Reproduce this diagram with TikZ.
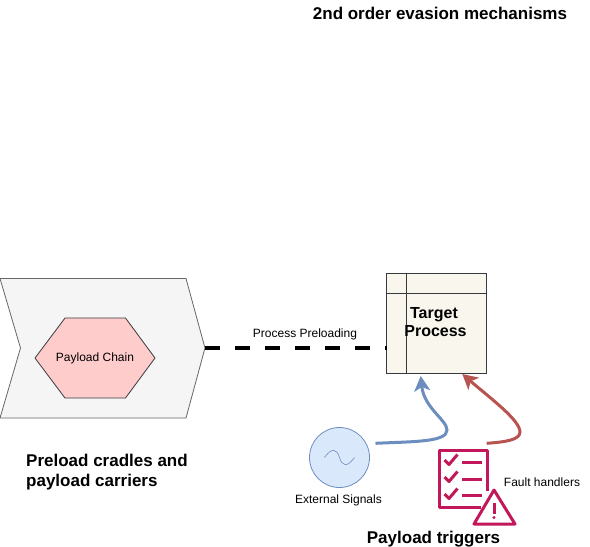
\documentclass[tikz,border=0pt]{standalone}
\usepackage{fontspec}
\setmainfont{Liberation Sans}
\usetikzlibrary{arrows.meta,shapes.geometric}
\definecolor{chevfill}{HTML}{F5F5F5}
\definecolor{chevline}{HTML}{666666}
\definecolor{hexfill}{HTML}{FFCCCC}
\definecolor{hexline}{HTML}{36393D}
\definecolor{boxfill}{HTML}{F9F7ED}
\definecolor{sigfill}{HTML}{DAE8FC}
\definecolor{sigline}{HTML}{6C8EBF}
\definecolor{redline}{HTML}{B85450}
\definecolor{pink}{HTML}{C2185B}
\tikzset{
  x=1pt,y=-1pt,
  heading/.style={font=\fontsize{17}{20}\selectfont\bfseries,align=left,inner sep=0pt},
  targetlabel/.style={font=\fontsize{16}{18}\selectfont\bfseries,align=center,inner sep=0pt},
  small/.style={font=\fontsize{12}{14}\selectfont,inner sep=0pt},
  tip/.style={-{Stealth[length=15pt,width=16pt,inset=4pt]}},
  icon/.style={draw=pink,line width=3pt,fill=none},
}
\begin{document}
\begin{tikzpicture}
\useasboundingbox (0,0) rectangle (590,547);
% chevron
\draw[chevline,fill=chevfill,line width=.8pt] (0,278.5) -- (186,278.5) -- (205,348) -- (186,418) -- (0,418) -- (20.5,348) -- cycle;
\coordinate (chevtip) at (205,348);
% hexagon
\draw[hexline,fill=hexfill,line width=.8pt] (35,358) -- (65,318) -- (125.5,318) -- (155,358) -- (125.5,398) -- (65,398) -- cycle;
\node[small] (chain) at (95,358.5) {Payload Chain};
% target
\draw[hexline,fill=boxfill,line width=1pt] (386.5,273.5) rectangle (486.5,373.5);
\draw[hexline,line width=1pt] (406.5,273.5) -- (406.5,373.5) (386.5,293.5) -- (486.5,293.5);
\coordinate (tgtleft) at (386.5,348);
\coordinate (tgtblue) at (420.7,376);
\coordinate (tgtred) at (462.3,374);
\node[targetlabel] (target) at (435.5,322.5) {Target\hspace*{3pt}\\Process};
% dashed connector
\draw[line width=4.5pt,dash pattern=on 15pt off 15pt] (chevtip) -- (tgtleft);
\node[small] (plabel) at (305,334.5) {Process Preloading};
% signal
\node[circle,draw=sigline,fill=sigfill,line width=.8pt,minimum size=60pt,inner sep=0pt] (sig) at (339.5,457.5) {};
\draw[sigline,line width=.6pt] (324.5,457.5) .. controls (332,447) and (337,449) .. (339.5,457.5) .. controls (342,466) and (347,468) .. (354.5,457.5);
\node[small] (siglabel) at (338.5,500.5) {External Signals};
% curves
\coordinate (bluestart) at (375.5,443.3);
\coordinate (redstart) at (486.7,443.3);
\draw[sigline,line width=3pt,tip] (bluestart) .. controls (415,441.5) and (447,442) .. (447,430) .. controls (447,420) and (424,408) .. (tgtblue);
\draw[redline,line width=3pt,tip] (redstart) .. controls (505,442) and (520,440) .. (520,432) .. controls (520,420) and (490,398) .. (tgtred);
% icon
\draw[icon,line join=round] (487,491) -- (487,450.5) -- (439.5,450.5) -- (439.5,507) -- (481,507);
\draw[icon,line join=round] (444.5,460) -- (449,464.5) -- (457.5,454.5);
\draw[icon,line join=round] (444.5,477) -- (449,481.5) -- (457.5,471.5);
\draw[icon,line join=round] (444.5,494) -- (449,498.5) -- (457.5,488.5);
\draw[icon] (462,462) -- (482,462) (462,479) -- (482,479) (462,495) -- (482,495);
\draw[icon,line join=round] (494,490) -- (515,524) -- (474,524) -- cycle;
\draw[pink,line width=3pt] (494,503) -- (494,514);
\fill[pink] (494,517.5) circle (1.7pt);
\node[small] (flabel) at (542,482.5) {Fault handlers};
% headings
\node[heading] (h1) at (440,13.5) {2nd order evasion mechanisms};
\node[heading,anchor=west] (h2) at (26,472.5) {Preload cradles and\\payload carriers};
\node[heading] (h3) at (433.5,539) {Payload triggers};
\end{tikzpicture}
\end{document}
